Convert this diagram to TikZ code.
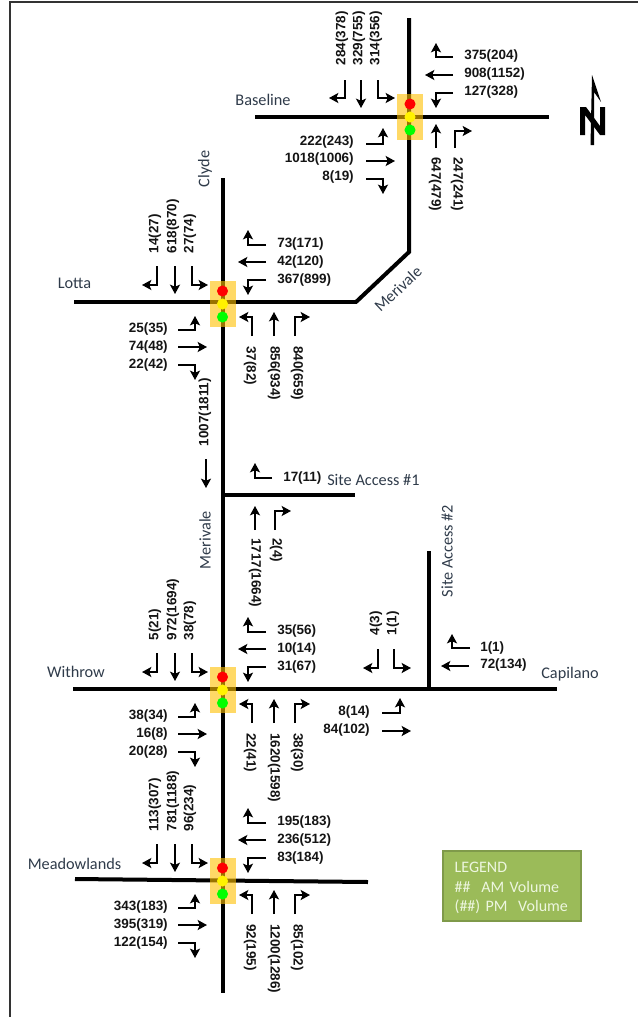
\documentclass[tikz,border=0pt]{standalone}
\usepackage{fontspec}
\setmainfont{Liberation Sans}
\newfontfamily\calibrifont{Carlito}
\usetikzlibrary{arrows.meta, positioning}
\definecolor{sigamber}{HTML}{FFC000}
\definecolor{legendgreen}{HTML}{9BBB59}
\definecolor{legendedge}{HTML}{7F9A4A}
\definecolor{legendtext}{HTML}{EDF6DF}
\definecolor{roadtext}{HTML}{2F3B4A}
\tikzset{
  road/.style={line width=3pt, line cap=butt},
  move/.style={-{Stealth[length=7pt, width=7.5pt, inset=1.6pt]}, line width=2.2pt},
  vol/.style={font=\fontsize{10.1pt}{12pt}\selectfont\bfseries, text=black!92, inner sep=0pt},
  volr/.style={vol, anchor=west, yshift=-1pt},
  voll/.style={vol, anchor=east, yshift=-1pt},
  volup/.style={vol, anchor=west, rotate=90, xshift=1pt},
  voldn/.style={vol, anchor=west, rotate=-90, xshift=-0.7pt},
  roadname/.style={font=\calibrifont\fontsize{12.2pt}{14pt}\selectfont, text=roadtext, inner sep=0pt},
  sigbox/.style={rectangle, fill=sigamber, fill opacity=0.6, minimum width=19.5pt,
                 minimum height=34.5pt, inner sep=0pt},
  lamp/.style={circle, fill=#1, minimum size=8.3pt, inner sep=0pt},
  legendbox/.style={rectangle, draw=legendedge, fill=legendgreen, line width=1.5pt,
                    minimum width=103pt, minimum height=53pt, text width=86pt, align=left,
                    font=\calibrifont\fontsize{12pt}{14.6pt}\selectfont, text=legendtext},
}
\begin{document}
\begin{tikzpicture}[x=0.75pt, y=-0.75pt]
  \useasboundingbox (0,0) rectangle (638,1017);
  % page edge
  \draw[line width=1.5pt, black!80] (638,2) -- (10,2) -- (10,1017);

  % roads
  \draw[road] (409,18) -- (409,252) -- (356,302);
  \draw[road] (255,117) -- (549,117);
  \draw[road] (223,178) -- (223,993);
  \draw[road] (74,302) -- (357,302);
  \draw[road] (223,495) -- (355,495);
  \draw[road] (73,689) -- (557,689);
  \draw[road] (429,551) -- (429,690);
  \draw[road] (75,879) -- (368,882);

  % signals
  \foreach \sig/\sx/\sy in {base/410/117, lotta/222.5/304, with/222.5/690, mead/222.5/881} {
    \node[sigbox] (\sig) at (\sx,\sy) {};
    \node[lamp=red] (\sig r) at (\sx,\sy-13) {};
    \node[lamp=yellow] (\sig y) at (\sx,\sy) {};
    \node[lamp=green] (\sig g) at (\sx,\sy+13) {};
  }

  % Baseline at Merivale
  \draw[move] (345,80) -- (345,98) -- (329,98);
  \draw[move] (361,80) -- (361,108);
  \draw[move] (378,80) -- (378,98) -- (395,98);
  \node[volup] (bs1) at (342,67) {284(378)};
  \node[volup] (bs2) at (359,67) {329(755)};
  \node[volup] (bs3) at (376,67) {314(356)};
  \draw[move] (366,144) -- (383,144) -- (383,128);
  \draw[move] (366,161) -- (395,161);
  \draw[move] (366,179) -- (383,179) -- (383,194);
  \node[voll] (be1) at (354,141) {222(243)};
  \node[voll] (be2) at (354,158) {1018(1006)};
  \node[voll] (be3) at (354,176) {8(19)};
  \draw[move] (453,57) -- (436,57) -- (436,43);
  \draw[move] (453,75) -- (425,75);
  \draw[move] (453,93) -- (436,93) -- (436,108);
  \node[volr] (bw1) at (464,55) {375(204)};
  \node[volr] (bw2) at (464,73) {908(1152)};
  \node[volr] (bw3) at (464,91) {127(328)};
  \draw[move] (436,148) -- (436,124);
  \draw[move] (455,148) -- (455,131) -- (472,131);
  \node[voldn] (bn1) at (435,158) {647(479)};
  \node[voldn] (bn2) at (457,158) {247(241)};

  % Lotta, Withrow and Meadowlands share one layout
  \foreach \leg/\dy/\sa/\sb/\sc/\ea/\eb/\ec/\wa/\wb/\wc/\na/\nb/\nc in {
    lo/0/14(27)/618(870)/27(74)/25(35)/74(48)/22(42)/73(171)/42(120)/367(899)/37(82)/856(934)/840(659),
    wi/387/5(21)/972(1694)/38(78)/38(34)/16(8)/20(28)/35(56)/10(14)/31(67)/22(41)/1620(1598)/38(30),
    me/578/113(307)/781(1188)/96(234)/343(183)/395(319)/122(154)/195(183)/236(512)/83(184)/92(195)/1200(1286)/85(102)} {
    \begin{scope}[shift={(0,\dy)}]
      \draw[move] (157,266) -- (157,285) -- (142,285);
      \draw[move] (175,266) -- (175,294);
      \draw[move] (192,266) -- (192,285) -- (208,285);
      \node[volup] (\leg s1) at (155,255) {\sa};
      \node[volup] (\leg s2) at (173,255) {\sb};
      \node[volup] (\leg s3) at (190,255) {\sc};
      \draw[move] (178,330) -- (195,330) -- (195,316);
      \draw[move] (178,347) -- (207,347);
      \draw[move] (178,365) -- (195,365) -- (195,380);
      \node[voll] (\leg e1) at (168,328) {\ea};
      \node[voll] (\leg e2) at (168,346) {\eb};
      \node[voll] (\leg e3) at (168,364) {\ec};
      \draw[move] (266,245) -- (248,245) -- (248,230);
      \draw[move] (266,262) -- (238,262);
      \draw[move] (266,280) -- (248,280) -- (248,295);
      \node[volr] (\leg w1) at (277,243) {\wa};
      \node[volr] (\leg w2) at (277,261) {\wb};
      \node[volr] (\leg w3) at (277,279) {\wc};
      \draw[move] (252,336) -- (252,317) -- (239,317);
      \draw[move] (274,336) -- (274,312);
      \draw[move] (295,336) -- (295,317) -- (310,317);
      \node[voldn] (\leg n1) at (250,347) {\na};
      \node[voldn] (\leg n2) at (274,347) {\nb};
      \node[voldn] (\leg n3) at (297,347) {\nc};
    \end{scope}
  }

  % Site Access #1
  \node[volup] (ms) at (205,448) {1007(1811)};
  \draw[move] (206,459) -- (206,488);
  \draw[move] (272,478) -- (255,478) -- (255,463);
  \node[volr] (sa1) at (283,477) {17(11)};
  \draw[move] (255,530) -- (255,506);
  \draw[move] (275,530) -- (275,511) -- (291,511);
  \node[voldn] (mn1) at (255,539) {1717(1664)};
  \node[voldn] (mn2) at (276,539) {2(4)};

  % Site Access #2
  \draw[move] (378,649) -- (378,668) -- (363,668);
  \draw[move] (394,649) -- (394,668) -- (411,668);
  \node[volup] (as1) at (376,637) {4(3)};
  \node[volup] (as2) at (393,637) {1(1)};
  \draw[move] (470,648) -- (452,648) -- (452,634);
  \draw[move] (469,666) -- (441,666);
  \node[volr] (cw1) at (480,647) {1(1)};
  \node[volr] (cw2) at (480,664) {72(134)};
  \draw[move] (382,713) -- (400,713) -- (400,698);
  \draw[move] (382,731) -- (411,731);
  \node[voll] (ce1) at (370,711) {8(14)};
  \node[voll] (ce2) at (370,729) {84(102)};

  % road names
  \node[roadname] (baseline) at (263,100) {Baseline};
  \node[roadname] (lotta name) at (74.5,283) {Lotta};
  \node[roadname] (withrow) at (76,672) {Withrow};
  \node[roadname] (meadow) at (74.5,864) {Meadowlands};
  \node[roadname] (capilano) at (570,674) {Capilano};
  \node[roadname, rotate=90] (clyde) at (205,169) {Clyde};
  \node[roadname, rotate=90] (merivale s) at (205,540) {Merivale};
  \node[roadname, rotate=43] (merivale n) at (398,289) {Merivale};
  \node[roadname, rotate=90] (access2) at (447,551) {Site Access \#2};
  \node[roadname, anchor=west] (access1) at (327,480) {Site Access \#1};

  % north arrow
  \fill (592,75) -- (601,102) -- (594,92) -- (594,145) -- (590.5,145) -- cycle;
  \fill (580,107) -- (586,107) -- (600,126) -- (600,107) -- (605,107) -- (605,135)
    -- (600,135) -- (585,115) -- (585,135) -- (580,135) -- cycle;

  % legend
  \node[legendbox] (legend) at (512,886) {\rule{0pt}{11pt}LEGEND\\\#\#\ \ AM Volume\\(\#\#) PM\ \ Volume};
\end{tikzpicture}
\end{document}
